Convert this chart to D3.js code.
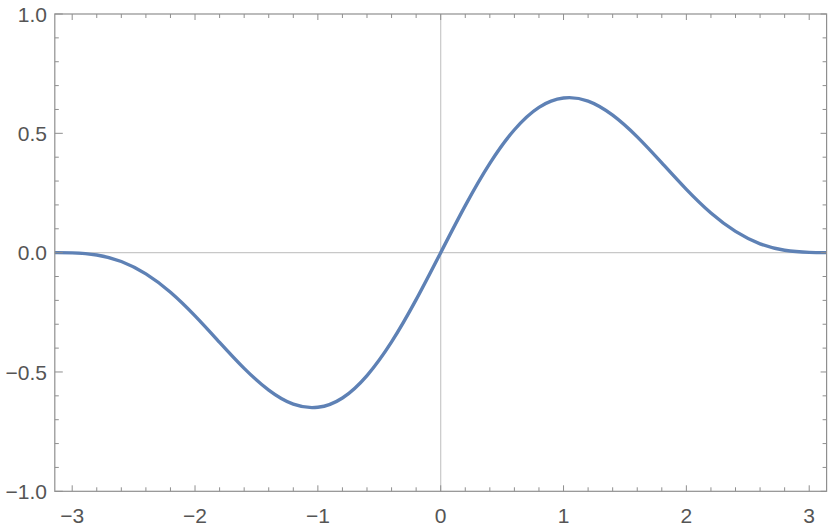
<!DOCTYPE html>
<html><head><meta charset="utf-8">
<script src="https://cdn.jsdelivr.net/npm/d3@7"></script>
<style>html,body{margin:0;padding:0;background:#fff;}svg{display:block;}</style>
</head><body>
<script>
// values
const xs = [-3.1416,-3.0,-2.8,-2.6,-2.4,-2.2,-2.0,-1.8,-1.6,-1.4,-1.2,-1.0,-0.8,-0.6,-0.4,-0.2,0,
            0.2,0.4,0.6,0.8,1.0,1.2,1.4,1.6,1.8,2.0,2.2,2.4,2.6,2.8,3.0,3.1416];
const ys = [0,-0.001,-0.010,-0.037,-0.089,-0.166,-0.265,-0.376,-0.485,-0.576,-0.635,-0.648,-0.609,-0.515,-0.374,-0.197,0,
            0.197,0.374,0.515,0.609,0.648,0.635,0.576,0.485,0.376,0.265,0.166,0.089,0.037,0.010,0.001,0];
const xTicks = [-3,-2,-1,0,1,2,3];
const yTicks = [-1.0,-0.5,0.0,0.5,1.0];
const xTickLabels = ["\u22123","\u22122","\u22121","0","1","2","3"];
const yTickLabels = ["\u22121.0","\u22120.5","0.0","0.5","1.0"];

const W = 830, H = 531;
const x = d3.scaleLinear().domain([-Math.PI, Math.PI]).range([54.8, 826.6]);
const y = d3.scaleLinear().domain([-1, 1]).range([491.3, 14]);

const svg = d3.select("body").append("svg").attr("width", W).attr("height", H);

const frameCol = "#8f8f8f", textCol = "#555";
const font = "'Liberation Sans', Arial, sans-serif";

// zero grid lines
svg.append("line").attr("x1", x(0)).attr("x2", x(0)).attr("y1", y(-1)).attr("y2", y(1))
  .attr("stroke", "#c8c8c8").attr("stroke-width", 1.2);
svg.append("line").attr("x1", x(-Math.PI)).attr("x2", x(Math.PI)).attr("y1", y(0)).attr("y2", y(0))
  .attr("stroke", "#c8c8c8").attr("stroke-width", 1.2);

// curve
const line = d3.line().x((d, i) => x(xs[i])).y((d, i) => y(ys[i])).curve(d3.curveNatural);
svg.append("path").datum(ys).attr("d", line).attr("fill", "none")
  .attr("stroke", "#5E81B5").attr("stroke-width", 3.4).attr("stroke-linejoin", "round");

// ticks
const xMinorAll = d3.range(-30, 31, 2).map(v => v / 10).filter(v => Math.round(v * 10) % 10 !== 0);
const yMinor = d3.range(-10, 11, 1).map(v => v / 10).filter(v => Math.round(v * 10) % 5 !== 0);

const g = svg.append("g").attr("stroke", frameCol).attr("stroke-width", 1);
const addX = (vals, len) => vals.forEach(v => {
  g.append("line").attr("x1", x(v)).attr("x2", x(v)).attr("y1", y(-1)).attr("y2", y(-1) - len);
  g.append("line").attr("x1", x(v)).attr("x2", x(v)).attr("y1", y(1)).attr("y2", y(1) + len);
});
const addY = (vals, lenL, lenR) => vals.forEach(v => {
  g.append("line").attr("y1", y(v)).attr("y2", y(v)).attr("x1", x(-Math.PI)).attr("x2", x(-Math.PI) + lenL);
  g.append("line").attr("y1", y(v)).attr("y2", y(v)).attr("x1", x(Math.PI)).attr("x2", x(Math.PI) - lenR);
});
addX(xTicks, 6);
addX(xMinorAll, 4);
addY(yTicks, 8, 6);
addY(yMinor, 4, 4);

// frame
svg.append("rect").attr("x", x(-Math.PI)).attr("y", y(1))
  .attr("width", x(Math.PI) - x(-Math.PI)).attr("height", y(-1) - y(1))
  .attr("fill", "none").attr("stroke", frameCol).attr("stroke-width", 1.2);

// labels
svg.append("g").selectAll("text").data(xTicks).join("text")
  .attr("x", d => x(d)).attr("y", 522.5).attr("text-anchor", "middle")
  .attr("font-family", font).attr("font-size", 21).attr("fill", textCol)
  .text((d, i) => xTickLabels[i]);
svg.append("g").selectAll("text").data(yTicks).join("text")
  .attr("x", 47).attr("y", d => y(d) + 7.6).attr("text-anchor", "end")
  .attr("font-family", font).attr("font-size", 21).attr("fill", textCol)
  .text((d, i) => yTickLabels[i]);
</script>
</body></html>
